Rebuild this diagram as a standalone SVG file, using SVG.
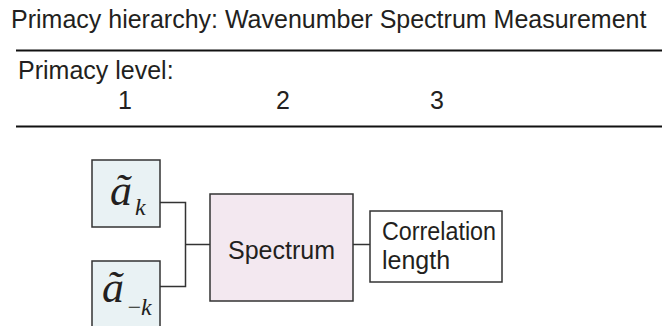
<svg xmlns="http://www.w3.org/2000/svg" width="662" height="326" viewBox="0 0 662 326">
<style>
.t{font-family:"Liberation Sans",Arial,sans-serif;font-size:25px;fill:#231f20}
.m{font-family:"Liberation Serif","Times New Roman",serif;font-style:italic;fill:#231f20}
.box{stroke:#333;stroke-width:1.5}
.src{fill:#e9f2f4}
.conn{fill:none;stroke:#333;stroke-width:1.5}
.rule{stroke:#111;stroke-width:2}
</style>
<rect width="662" height="326" fill="#fff"/>
<text class="t" x="11" y="28" font-size="25.8">Primacy hierarchy: Wavenumber Spectrum Measurement</text>
<line class="rule" x1="16" y1="50.5" x2="662" y2="50.5"/>
<text class="t" x="18" y="79">Primacy level:</text>
<text class="t" x="125" y="109" text-anchor="middle">1</text>
<text class="t" x="283" y="109" text-anchor="middle">2</text>
<text class="t" x="437" y="109" text-anchor="middle">3</text>
<line class="rule" x1="16" y1="126.5" x2="662" y2="126.5"/>
<g id="connectors">
<polyline class="conn" points="160,202.5 185.5,202.5 185.5,286.5 160,286.5"/>
<line class="conn" x1="185.5" y1="244.5" x2="210" y2="244.5"/>
<line class="conn" x1="353" y1="244.5" x2="370" y2="244.5"/>
</g>
<g id="a_k">
<rect class="box src" x="92" y="160" width="68" height="67"/>
<text class="m" x="110" y="205" font-size="44">ã</text>
<text class="m" x="135" y="215" font-size="24">k</text>
</g>
<g id="a_minus_k">
<rect class="box src" x="92" y="261" width="68" height="80"/>
<text class="m" x="102" y="302" font-size="44">ã</text>
<text class="m" x="126" y="315" font-size="24" font-style="normal">−</text>
<text class="m" x="141" y="315" font-size="24">k</text>
</g>
<g id="spectrum">
<rect class="box" x="210" y="194" width="143" height="107" fill="#f3e8f0"/>
<text class="t" x="281.5" y="259" text-anchor="middle">Spectrum</text>
</g>
<g id="correlation">
<rect class="box" x="370" y="211" width="132" height="71" fill="#fff"/>
<text class="t" x="382" y="240" textLength="114" lengthAdjust="spacingAndGlyphs">Correlation</text>
<text class="t" x="382" y="269">length</text>
</g>
</svg>
